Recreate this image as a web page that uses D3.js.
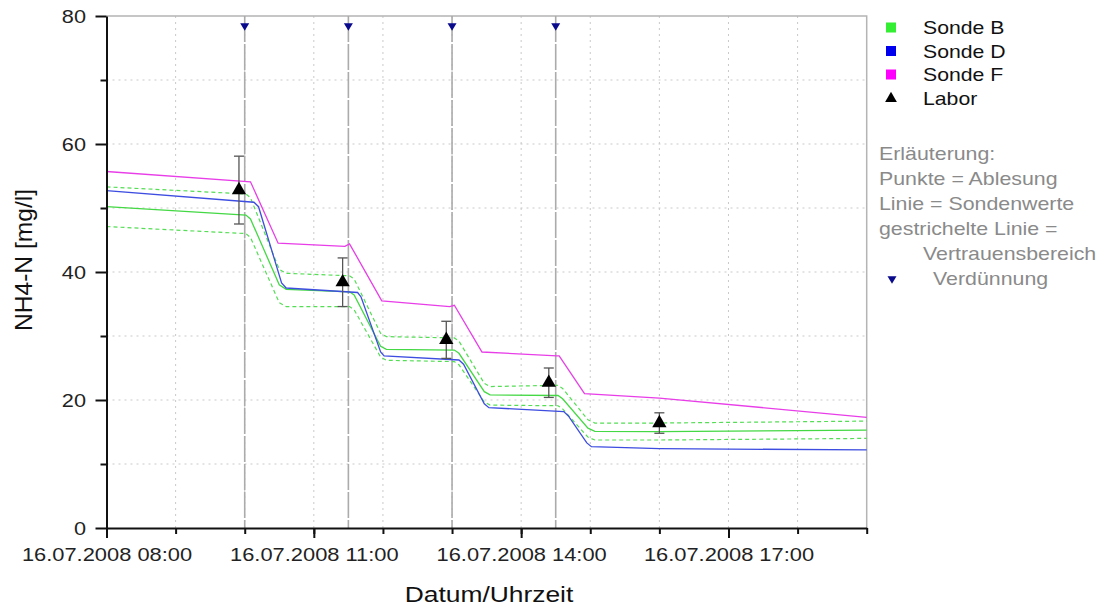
<!DOCTYPE html>
<html>
<head>
<meta charset="utf-8">
<script src="https://cdn.jsdelivr.net/npm/d3@7"></script>
<style>
  body { margin: 0; background: #fff; }
  svg { display: block; }
  text { font-family: "Liberation Sans", Arial, sans-serif; }
</style>
</head>
<body>
<svg id="chart" width="1107" height="607"></svg>
<script>
// Messtag
const day = "2008-07-16";

// Sonde B: Messwert und Vertrauensbereich (obere / untere Grenze)
const sondeBTimes = ["08:00","10:01","10:05","10:30","10:36","11:31","11:35","11:58","12:03","13:02","13:06","13:28","13:33","14:32","14:36","14:58","15:04","16:00","19:00"];
const sondeB      = [50.2, 48.9, 48.3, 38.0, 37.3, 36.9, 36.4, 28.4, 27.9, 27.8, 27.3, 21.3, 20.8, 20.7, 20.2, 15.6, 15.1, 15.05, 15.3];
const sondeBUpper = [53.3, 52.2, 51.6, 40.4, 39.8, 39.4, 38.9, 30.4, 29.9, 29.7, 29.2, 22.6, 22.1, 22.3, 21.8, 16.9, 16.4, 16.4, 16.7];
const sondeBLower = [47.1, 46.0, 45.4, 35.2, 34.6, 34.6, 34.1, 26.7, 26.2, 26.0, 25.5, 19.7, 19.2, 19.1, 18.6, 14.2, 13.75, 13.75, 14.0];

// Sonde D
const sondeDTimes = ["08:00","10:08","10:12","10:32","10:36","11:38","11:41","11:58","12:01","13:06","13:10","13:28","13:32","14:37","14:41","14:57","15:01","16:00","19:00"];
const sondeD      = [52.7, 50.9, 50.2, 38.3, 37.5, 36.8, 36.1, 27.5, 26.9, 26.25, 25.6, 19.4, 18.8, 18.2, 17.5, 13.3, 12.7, 12.4, 12.2];

// Sonde F
const sondeFTimes = ["08:00","10:05","10:29","11:27","11:31","11:59","12:58","13:02","13:26","14:31","14:33","14:55","16:00","19:00"];
const sondeF      = [55.7, 54.1, 44.5, 44.0, 44.4, 35.5, 34.6, 34.8, 27.5, 26.9, 26.9, 21.0, 20.3, 17.3];

// Laborwerte mit Fehlerbalken
const laborTimes  = ["09:55","11:25","12:55","14:24","16:00"];
const labor       = [52.8, 38.4, 29.4, 22.7, 16.4];
const laborError  = [5.3, 3.8, 2.9, 2.3, 1.6];

// Verdünnungszeitpunkte
const dilutionTimes = ["10:00","11:30","13:00","14:30"];
const dilutionLevel = 78.3;

// Achsen
const yMajorTicks = [0, 20, 40, 60, 80];
const yMinorTicks = [10, 30, 50, 70];
const xMajorTicks = ["08:00","11:00","14:00","17:00"];
const xHourTicks  = ["08:00","09:00","10:00","11:00","12:00","13:00","14:00","15:00","16:00","17:00","18:00","19:00"];

// Legende
const legendSeries = ["Sonde B", "Sonde D", "Sonde F"];
const legendColors = ["#33ee33", "#0000ee", "#ff00ff"];
const legendLabor  = "Labor";
const noteLines    = ["Erläuterung:", "Punkte = Ablesung", "Linie = Sondenwerte", "gestrichelte Linie =", "Vertrauensbereich"];
const noteDilution = "Verdünnung";

const parse = d3.timeParse("%Y-%m-%d %H:%M");
const t = s => parse(day + " " + s);

const svg = d3.select("#chart");
const X0 = 106.5, X1 = 866.7, Y0 = 528, Y1 = 16;

const x = d3.scaleTime().domain([t("08:00"), t("19:00")]).range([X0, X1]);
const y = d3.scaleLinear().domain([0, 80]).range([Y0, Y1]);

// Raster
const grid = svg.append("g").attr("stroke", "#c9c9c9").attr("stroke-width", 1).attr("stroke-dasharray", "2,4");
grid.selectAll("line.h").data(yMinorTicks.concat([20, 40, 60])).join("line")
  .attr("x1", X0).attr("x2", X1).attr("y1", d => y(d)).attr("y2", d => y(d));
grid.selectAll("line.v").data(xHourTicks.slice(1, -1)).join("line")
  .attr("y1", Y1).attr("y2", Y0).attr("x1", d => x(t(d))).attr("x2", d => x(t(d)));

// Rahmen oben / rechts
svg.append("path")
  .attr("d", `M${X0},${Y1}H${X1}V${Y0}`)
  .attr("fill", "none").attr("stroke", "#b4b4b4").attr("stroke-width", 1.5);

// Verdünnungslinien
svg.append("g").selectAll("line").data(dilutionTimes).join("line")
  .attr("x1", d => x(t(d))).attr("x2", d => x(t(d)))
  .attr("y1", Y1).attr("y2", Y0)
  .attr("stroke", "#ababab").attr("stroke-width", 1.6).attr("stroke-dasharray", "26,2");

// Kurven
const line = d3.line().x(d => x(d[0])).y(d => y(d[1]));
const zipT = (times, vals) => times.map((s, i) => [t(s), vals[i]]);

const curves = svg.append("g").attr("fill", "none");
curves.append("path").attr("d", line(zipT(sondeBTimes, sondeBUpper)))
  .attr("stroke", "#55dd55").attr("stroke-width", 1.2).attr("stroke-dasharray", "4,3");
curves.append("path").attr("d", line(zipT(sondeBTimes, sondeBLower)))
  .attr("stroke", "#55dd55").attr("stroke-width", 1.2).attr("stroke-dasharray", "4,3");
curves.append("path").attr("d", line(zipT(sondeBTimes, sondeB)))
  .attr("stroke", "#44d844").attr("stroke-width", 1.3);
curves.append("path").attr("d", line(zipT(sondeDTimes, sondeD)))
  .attr("stroke", "#3d4de0").attr("stroke-width", 1.3);
curves.append("path").attr("d", line(zipT(sondeFTimes, sondeF)))
  .attr("stroke", "#e83ee8").attr("stroke-width", 1.3);

// Laborwerte mit Fehlerbalken
const lab = svg.append("g");
const labData = laborTimes.map((s, i) => ({ t: t(s), v: labor[i], e: laborError[i] }));
const eb = lab.selectAll("g.eb").data(labData).join("g").attr("stroke", "#555").attr("stroke-width", 1.3);
eb.append("line").attr("x1", d => x(d.t)).attr("x2", d => x(d.t)).attr("y1", d => y(d.v + d.e)).attr("y2", d => y(d.v - d.e));
eb.append("line").attr("x1", d => x(d.t) - 5).attr("x2", d => x(d.t) + 5).attr("y1", d => y(d.v + d.e)).attr("y2", d => y(d.v + d.e));
eb.append("line").attr("x1", d => x(d.t) - 5).attr("x2", d => x(d.t) + 5).attr("y1", d => y(d.v - d.e)).attr("y2", d => y(d.v - d.e));
const tri = d3.symbol().type(d3.symbolTriangle).size(88);
lab.selectAll("path").data(labData).join("path")
  .attr("d", tri).attr("transform", d => `translate(${x(d.t)},${y(d.v)})`).attr("fill", "#000");

// Verdünnungsmarker (Dreieck nach unten)
const downTri = (w, h) => `M${-w / 2},${-h / 2}L${w / 2},${-h / 2}L0,${h / 2}Z`;
svg.append("g").selectAll("path").data(dilutionTimes).join("path")
  .attr("d", downTri(9, 7.5))
  .attr("transform", d => `translate(${x(t(d))},${y(dilutionLevel)})`)
  .attr("fill", "#0a0a8c");

// Achsen
const fmt = d3.timeFormat("%d.%m.%Y %H:%M");
const xAxis = svg.append("g").attr("transform", `translate(0,${Y0})`)
  .call(d3.axisBottom(x).tickValues(xMajorTicks.map(t)).tickFormat(fmt).tickSize(10).tickSizeOuter(0));
svg.append("g").attr("transform", `translate(0,${Y0})`)
  .call(d3.axisBottom(x).tickValues(xHourTicks.map(t)).tickFormat("").tickSize(6).tickSizeOuter(0))
  .call(g => g.select(".domain").remove());
const yAxis = svg.append("g").attr("transform", `translate(${X0},0)`)
  .call(d3.axisLeft(y).tickValues(yMajorTicks).tickSize(11).tickSizeOuter(0));
svg.append("g").attr("transform", `translate(${X0},0)`)
  .call(d3.axisLeft(y).tickValues(yMinorTicks).tickFormat("").tickSize(6).tickSizeOuter(0))
  .call(g => g.select(".domain").remove());

svg.selectAll(".domain").attr("stroke", "#111").attr("stroke-width", 2);
svg.selectAll(".tick line").attr("stroke", "#111").attr("stroke-width", 2);

xAxis.selectAll(".tick text")
  .attr("y", null).attr("dy", null)
  .attr("transform", "translate(0,33) scale(1.25,1)")
  .attr("font-size", 17.5).attr("fill", "#222").attr("font-family", null);
yAxis.selectAll(".tick text")
  .attr("x", null).attr("dy", null)
  .attr("transform", "translate(-20.5,6.5) scale(1.24,1)")
  .attr("font-size", 17.5).attr("fill", "#222").attr("font-family", null);

// Achsentitel
svg.append("text")
  .attr("transform", "translate(31.5,260) rotate(-90) scale(1.07,1)")
  .attr("text-anchor", "middle").attr("font-size", 23).attr("fill", "#111")
  .text("NH4-N [mg/l]");
svg.append("text")
  .attr("transform", "translate(489,602) scale(1.2,1)")
  .attr("text-anchor", "middle").attr("font-size", 22).attr("fill", "#111")
  .text("Datum/Uhrzeit");

// Legende
const legend = svg.append("g");
const legendY = [34, 57.5, 81, 104.5];
legendSeries.forEach((name, i) => {
  legend.append("rect").attr("x", 886).attr("y", legendY[i] - 11.5).attr("width", 10).attr("height", 10)
    .attr("fill", legendColors[i]);
  legend.append("text").attr("transform", `translate(923,${legendY[i]}) scale(1.18,1)`)
    .attr("font-size", 18).attr("fill", "#111").text(name);
});
legend.append("path").attr("d", tri.size(60)).attr("transform", `translate(891,${legendY[3] - 6})`).attr("fill", "#000");
legend.append("text").attr("transform", `translate(923,${legendY[3]}) scale(1.18,1)`)
  .attr("font-size", 18).attr("fill", "#111").text(legendLabor);

const noteX = [879, 879, 879, 879, 923];
noteLines.forEach((s, i) => {
  legend.append("text").attr("transform", `translate(${noteX[i]},${160 + i * 25}) scale(1.22,1)`)
    .attr("font-size", 17.5).attr("fill", "#8a8a8a").text(s);
});
legend.append("path").attr("d", downTri(9, 7.5)).attr("transform", "translate(892,280)").attr("fill", "#0a0a8c");
legend.append("text").attr("transform", "translate(933,285) scale(1.22,1)")
  .attr("font-size", 17.5).attr("fill", "#8a8a8a").text(noteDilution);
</script>
</body>
</html>
